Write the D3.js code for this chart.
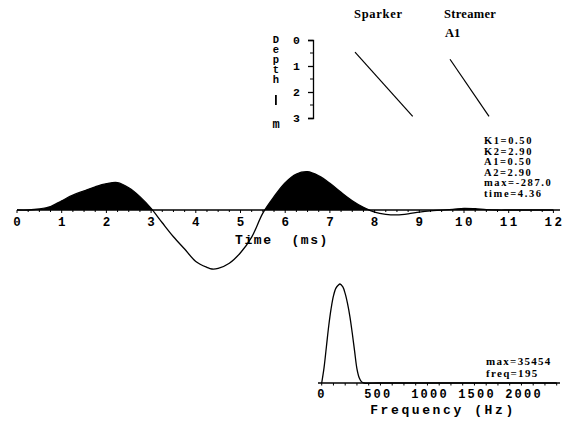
<!DOCTYPE html>
<html>
<head>
<meta charset="utf-8">
<script src="https://cdn.jsdelivr.net/npm/d3@7"></script>
<style>
  body { margin: 0; background: #fff; }
  svg { display: block; }
  .mono { font-family: "Liberation Mono", "DejaVu Sans Mono", monospace; font-weight: bold; }
  .serif { font-family: "Liberation Serif", "DejaVu Serif", serif; font-weight: bold; }
  .vert { writing-mode: vertical-rl; text-orientation: upright; }
</style>
</head>
<body>
<div id="chart"></div>
<script>
// wavelet (time in ms, amplitude)
const waveTime = [0, 0.25, 0.5, 0.75, 1.0, 1.25, 1.5, 1.75, 2.0, 2.25, 2.5, 2.75, 3.0, 3.25, 3.5, 3.75, 4.0, 4.25, 4.36, 4.5, 4.75, 5.0, 5.25, 5.5, 5.75, 6.0, 6.25, 6.5, 6.75, 7.0, 7.25, 7.5, 7.75, 8.0, 8.25, 8.5, 8.75, 9.0, 9.25, 9.5, 9.75, 10.0, 10.25, 10.5, 10.75, 11.0, 11.5, 12.0];
const waveAmp = [0, 0, 5, 17, 45, 72, 93, 113, 128, 133, 108, 65, 8, -62, -130, -190, -250, -279, -287, -284, -259, -208, -132, -15, 65, 133, 175, 186, 166, 130, 86, 45, 13, -10, -21, -24, -19, -10, -4, -1, 3, 8, 6, 2, 0, 0, 0, 0];

// spectrum (Hz, amplitude)
const specFreq = [0, 25, 50, 75, 100, 125, 150, 175, 195, 225, 250, 275, 300, 325, 350, 375, 400, 425, 450, 600, 1000, 1500, 2000, 2500];
const specAmp = [0, 5500, 13000, 20500, 26600, 31200, 33900, 35000, 35454, 34400, 32000, 28400, 23800, 17900, 11400, 5100, 1800, 400, 0, 0, 0, 0, 0, 0];

// depth traces (horizontal offset, depth m)
const sparkerOffset = [4.2, 9.97];
const sparkerDepth = [0.47, 2.94];
const streamerOffset = [13.7, 17.6];
const streamerDepth = [0.74, 2.94];

const timeTicks = [0, 1, 2, 3, 4, 5, 6, 7, 8, 9, 10, 11, 12];
const depthTicks = [0, 1, 2, 3];
const freqTicks = [0, 500, 1000, 1500, 2000];

const waveParams = ["K1=0.50", "K2=2.90", "A1=0.50", "A2=2.90", "max=-287.0", "time=4.36"];
const specParams = ["max=35454", "freq=195"];
const depthLabel = "Depth";

const W = 570, H = 425;
const svg = d3.select("#chart").append("svg")
  .attr("width", W).attr("height", H);
svg.append("rect").attr("width", W).attr("height", H).attr("fill", "#fff");

// ---------- time panel ----------
const base = 210;
const x = d3.scaleLinear().domain([0, 12]).range([17, 553.4]);
const y = d3.scaleLinear().domain([-287, 0]).range([269, base]);

svg.append("clipPath").attr("id", "above")
  .append("rect").attr("x", 0).attr("y", 0).attr("width", W).attr("height", base);

const pts = waveTime.map((t, i) => [t, waveAmp[i]]);
const area = d3.area().x(d => x(d[0])).y0(base).y1(d => y(d[1])).curve(d3.curveCatmullRom);
const line = d3.line().x(d => x(d[0])).y(d => y(d[1])).curve(d3.curveCatmullRom);

svg.append("path").datum(pts).attr("d", area)
  .attr("fill", "#000").attr("clip-path", "url(#above)");
svg.append("path").datum(pts).attr("d", line)
  .attr("fill", "none").attr("stroke", "#000").attr("stroke-width", 1.3);

const tAxis = svg.append("g").attr("transform", `translate(0,${base})`);
tAxis.append("line").attr("x1", x(0)).attr("x2", 560).attr("stroke", "#000").attr("stroke-width", 1.5);
tAxis.selectAll(".minor").data(d3.range(0, 48.5).map(i => i * 0.25))
  .join("line")
  .attr("x1", d => x(d)).attr("x2", d => x(d))
  .attr("y1", 0).attr("y2", d => Number.isInteger(d) ? 3 : 2)
  .attr("stroke", "#000");
tAxis.selectAll(".tl").data(timeTicks).join("text")
  .attr("class", "mono")
  .attr("x", d => x(d) + (d >= 10 ? 1 : 0)).attr("y", 16)
  .attr("text-anchor", "middle")
  .attr("font-size", 12.5).attr("letter-spacing", d => d >= 10 ? 2.5 : 0)
  .text(d => d);

svg.append("text").attr("class", "mono")
  .attr("x", 282).attr("y", 244).attr("text-anchor", "middle")
  .attr("font-size", 13).attr("letter-spacing", 1.6)
  .attr("xml:space", "preserve")
  .text("Time  (ms)");

svg.selectAll(".wp").data(waveParams).join("text")
  .attr("class", "serif")
  .attr("x", 484).attr("y", (d, i) => 144 + i * 10.5)
  .attr("font-size", 10.5).attr("letter-spacing", 1.6)
  .text(d => d);

// ---------- depth panel ----------
const dy = d3.scaleLinear().domain([0, 3]).range([40, 118]);
const dx = d3.scaleLinear().domain([0, 24]).range([313, 553]);

const dAxis = svg.append("g").attr("transform", "translate(313,0)");
dAxis.call(d3.axisLeft(dy).tickValues(depthTicks).tickSize(5).tickPadding(8).tickFormat(d3.format("d")));
dAxis.selectAll(".tick line").attr("stroke-width", 1.3);
dAxis.select(".domain").attr("stroke-width", 1.3);
dAxis.selectAll("text").attr("class", "mono").attr("font-size", 11.5);
dAxis.selectAll(".m").data([0.5, 1.5, 2.5]).join("line")
  .attr("x1", -3).attr("x2", 0).attr("y1", d => dy(d)).attr("y2", d => dy(d))
  .attr("stroke", "#000");

// stacked vertical label
svg.append("text").attr("class", "mono vert")
  .attr("x", 276).attr("y", 34)
  .attr("font-size", 10.5).attr("letter-spacing", -2)
  .text(depthLabel);
svg.append("rect").attr("x", 275).attr("y", 95).attr("width", 1.8).attr("height", 10).attr("fill", "#000");
svg.append("text").attr("class", "mono")
  .attr("x", 276).attr("y", 128).attr("text-anchor", "middle").attr("font-size", 12).text("m");

const dline = d3.line().x(d => dx(d[0])).y(d => dy(d[1]));
svg.append("path").datum(sparkerOffset.map((o, i) => [o, sparkerDepth[i]]))
  .attr("d", dline).attr("stroke", "#000").attr("stroke-width", 1.2).attr("fill", "none");
svg.append("path").datum(streamerOffset.map((o, i) => [o, streamerDepth[i]]))
  .attr("d", dline).attr("stroke", "#000").attr("stroke-width", 1.2).attr("fill", "none");

svg.append("text").attr("class", "serif").attr("x", 354).attr("y", 18)
  .attr("font-size", 12.5).attr("letter-spacing", 0.7).text("Sparker");
svg.append("text").attr("class", "serif").attr("x", 444).attr("y", 18)
  .attr("font-size", 12.5).attr("letter-spacing", 0.3).text("Streamer");
svg.append("text").attr("class", "serif").attr("x", 445).attr("y", 37)
  .attr("font-size", 12.5).text("A1");

// ---------- spectrum panel ----------
const fbase = 383;
const fx = d3.scaleLinear().domain([0, 2000]).range([321.7, 509.7]);
const fy = d3.scaleLinear().domain([0, 35454]).range([fbase, 284]);

svg.append("path").datum(specFreq.map((f, i) => [f, specAmp[i]]))
  .attr("d", d3.line().x(d => fx(d[0])).y(d => fy(d[1])).curve(d3.curveCatmullRom))
  .attr("fill", "none").attr("stroke", "#000").attr("stroke-width", 1.3);

const fAxis = svg.append("g").attr("transform", `translate(0,${fbase})`);
fAxis.append("line").attr("x1", 318).attr("x2", 560).attr("stroke", "#000").attr("stroke-width", 1.5);
fAxis.selectAll(".fm").data(d3.range(0, 20.5).map(i => i * 125))
  .join("line")
  .attr("x1", d => fx(d)).attr("x2", d => fx(d))
  .attr("y1", 0).attr("y2", 2.5).attr("stroke", "#000");
fAxis.selectAll(".fl").data(freqTicks).join("text")
  .attr("class", "mono")
  .attr("x", d => fx(d) - 4.5).attr("y", 15)
  .attr("font-size", 12).attr("letter-spacing", 2.2)
  .text(d => d);

svg.append("text").attr("class", "mono")
  .attr("x", 443).attr("y", 414).attr("text-anchor", "middle")
  .attr("font-size", 13).attr("letter-spacing", 2.6)
  .text("Frequency (Hz)");

svg.selectAll(".sp").data(specParams).join("text")
  .attr("class", "serif")
  .attr("x", 486).attr("y", (d, i) => 365 + i * 12)
  .attr("font-size", 11).attr("letter-spacing", 1.3)
  .text(d => d);
</script>
</body>
</html>
